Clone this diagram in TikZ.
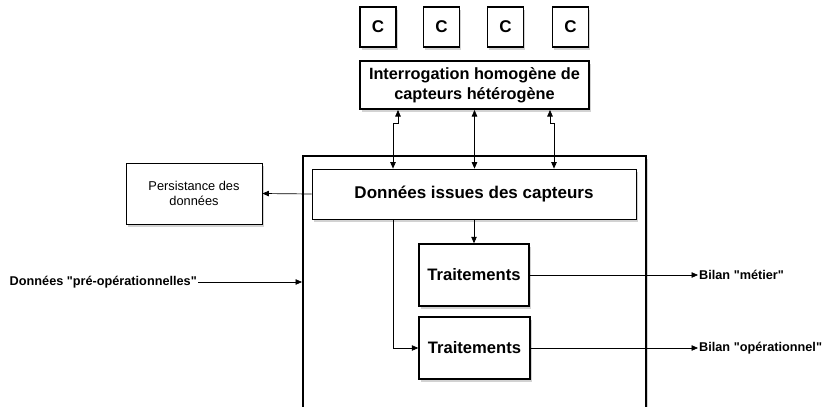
\documentclass[tikz,border=0pt]{standalone}
\usepackage{fontspec}
\setmainfont{Liberation Sans}[Ligatures=TeXOff]
\usetikzlibrary{arrows.meta,shadows}
\begin{document}
\begin{tikzpicture}[x=1pt,y=-1pt,
  box/.style={draw, fill=white, inner sep=0pt, align=center,
    drop shadow={opacity=0.35,shadow xshift=1.5pt,shadow yshift=-2.5pt}},
  cbox/.style={box, line width=1.2pt, minimum width=36pt, minimum height=40pt, font=\fontsize{17}{20}\selectfont\bfseries},
  tbox/.style={box, line width=1.5pt, minimum height=62pt, font=\fontsize{16.6}{20}\selectfont\bfseries},
  lbl/.style={inner sep=1pt, font=\fontsize{12.7}{15}\selectfont\bfseries},
  tip/.style={-{Triangle[length=6.5pt,width=5.5pt]}},
  conn/.style={line width=0.7pt, tip},
  dconn/.style={line width=0.7pt, {Triangle[length=6.5pt,width=5.5pt]}-{Triangle[length=6.5pt,width=5.5pt]}}]
\clip (0,0) rectangle (825,407);
\useasboundingbox (0,0) rectangle (825,407);
% outer container
\node[box, line width=2pt, minimum width=343pt, minimum height=270pt] (outer) at (474.5,291) {};
% sensors
\node[cbox] (c1) at (378,27) {C};
\node[cbox] (c2) at (441.5,27) {C};
\node[cbox] (c3) at (505.5,27) {C};
\node[cbox] (c4) at (570.5,27) {C};
\node[box, line width=2pt, minimum width=229pt, minimum height=48pt, font=\fontsize{16.3}{20}\selectfont\bfseries] (interrog) at (474.5,85) {Interrogation homogène de\\capteurs hétérogène};
\node[box, line width=0.8pt, minimum width=324pt, minimum height=50pt, font=\fontsize{17}{20}\selectfont\bfseries, drop shadow={opacity=0}] (donnees) at (474,194) {Données issues des capteurs};
\node[tbox, minimum width=110pt] (t1) at (474,275) {Traitements};
\node[tbox, minimum width=111pt] (t2) at (474.5,348) {Traitements};
\node[box, line width=0.8pt, minimum width=136pt, minimum height=61pt, font=\fontsize{12.8}{15.5}\selectfont] (persist) at (194,193.5) {Persistance des\\données};
\node[lbl, anchor=west] (bilan1) at (698,275) {Bilan "métier"};
\node[lbl, anchor=west] (bilan2) at (698,348) {Bilan "opérationnel"};
\node[lbl, anchor=east] (preop) at (198,282) {Données "pré-opérationnelles"};
% connectors
\draw[dconn] ([xshift=-76.5pt]interrog.south) -- ++(0,13) -| ([xshift=-81pt]donnees.north);
\draw[dconn] (interrog.south) -- (interrog.south |- donnees.north);
\draw[dconn] ([xshift=75.5pt]interrog.south) -- ++(0,13) -| ([xshift=80pt]donnees.north);
\draw[conn] (donnees.west) -- (persist.east);
\draw[conn] (donnees.south) -- (t1.north);
\draw[conn] ([xshift=-81pt]donnees.south) |- (t2.west);
\draw[conn] (t1.east) -- (bilan1.west);
\draw[conn] (t2.east) -- (bilan2.west);
\draw[conn] (preop.east) -- (preop.east -| outer.west);
\end{tikzpicture}
\end{document}
